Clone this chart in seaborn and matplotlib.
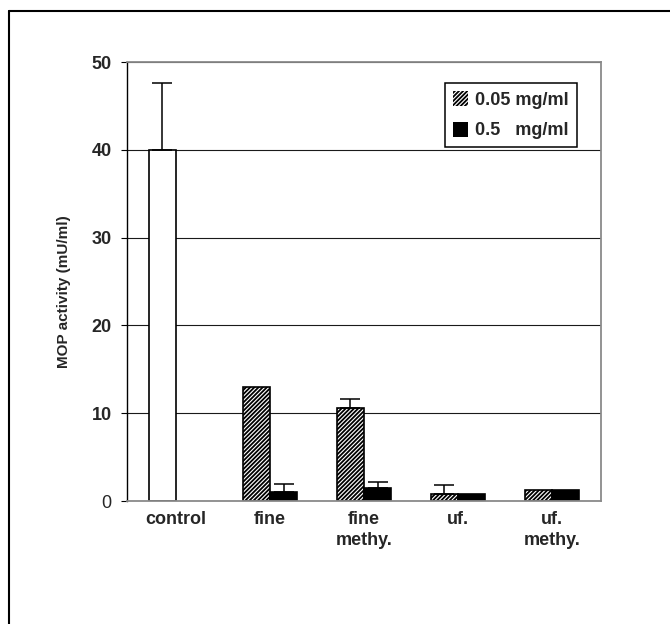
import numpy as np
import pandas as pd
import seaborn as sns
import matplotlib.pyplot as plt
from matplotlib.patches import Patch
from matplotlib.lines import Line2D

# values
samples = ['control', 'fine', 'fine\nmethy.', 'uf.', 'uf.\nmethy.']
conc_levels = ['0.05 mg/ml', '0.5   mg/ml']
act_low = [40.0, 13.0, 10.6, 0.8, 1.2]      # 0.05 mg/ml (control sits in this slot)
act_high = [None, 1.0, 1.5, 0.8, 1.2]       # 0.5 mg/ml
err_low = [7.6, 0.0, 1.0, 1.0, 0.0]
err_high = [0.0, 0.9, 0.7, 0.0, 0.0]

rows = []
for s, v in zip(samples, act_low):
    rows.append({'sample': s, 'conc': conc_levels[0], 'activity': v})
for s, v in zip(samples, act_high):
    if v is not None:
        rows.append({'sample': s, 'conc': conc_levels[1], 'activity': v})
df = pd.DataFrame(rows)

sns.set_style('white')
plt.rcParams['font.family'] = ['Liberation Sans', 'DejaVu Sans']
plt.rcParams['font.weight'] = 'bold'
plt.rcParams['hatch.linewidth'] = 1.3

HATCH = '////////'

fig = plt.figure(figsize=(6.7, 6.24), dpi=100)
ax = fig.add_axes([127 / 670, 1 - 501 / 624, 474 / 670, 439 / 624])

sns.barplot(data=df, x='sample', y='activity', hue='conc', order=samples,
            hue_order=conc_levels, palette=['white', 'black'], width=0.58,
            edgecolor='black', linewidth=1.2, errorbar=None, legend=False, ax=ax)

# style bars + add upward-only error bars
bar_conts = list(ax.containers)
for k, cont in enumerate(bar_conts):
    errs = err_low if k == 0 else err_high
    for bar in cont.patches:
        xc = bar.get_x() + bar.get_width() / 2
        i = int(round(xc))
        if k == 0 and i > 0:
            bar.set_hatch(HATCH)
        e = errs[i]
        if e > 0:
            ax.errorbar(xc, bar.get_height(), yerr=[[0], [e]], fmt='none',
                        ecolor='black', elinewidth=1.1, capsize=7, capthick=1.1,
                        zorder=1)

ax.set_ylim(0, 50)
ax.set_yticks(range(0, 51, 10))
ax.yaxis.grid(True, color='#1a1a1a', linewidth=0.8)
ax.set_axisbelow(True)
ax.set_xlabel('')
ax.set_ylabel('MOP activity (mU/ml)', fontsize=11, fontweight='bold')
ax.yaxis.set_label_coords(-0.118, 0.476)

ax.tick_params(axis='y', left=True, length=4, width=0.8, color='black',
               pad=7, labelsize=13)
ax.tick_params(axis='x', bottom=False, length=0, pad=7, labelsize=13)
for lab in ax.get_xticklabels():
    lab.set_fontweight('bold')
    lab.set_linespacing(1.35)
for lab in ax.get_yticklabels():
    lab.set_fontweight('bold')
ax.get_yticklabels()[0].set_fontweight('normal')

for side in ['top', 'right', 'bottom']:
    ax.spines[side].set_color('#8a8a8a')
    ax.spines[side].set_linewidth(1.3)
ax.spines['left'].set_color('black')
ax.spines['left'].set_linewidth(1.0)

handles = [Patch(facecolor='white', edgecolor='black', hatch=HATCH, linewidth=0),
           Patch(facecolor='black', edgecolor='black', linewidth=0)]
leg = ax.legend(handles, conc_levels, loc='upper right',
                bbox_to_anchor=(0.949, 0.952), borderaxespad=0, frameon=True,
                fancybox=False, edgecolor='black', framealpha=1,
                prop={'size': 13, 'weight': 'bold'}, handlelength=0.8,
                handleheight=0.9, handletextpad=0.4, labelspacing=0.7,
                borderpad=0.45)
leg.get_frame().set_linewidth(1.1)

# outer frame (only top and left edges show in the crop)
fig.add_artist(Line2D([8.5 / 670, 1], [1 - 10.5 / 624] * 2,
                      transform=fig.transFigure, color='black', lw=1.5))
fig.add_artist(Line2D([8.5 / 670] * 2, [0, 1 - 10.5 / 624],
                      transform=fig.transFigure, color='black', lw=1.5))

fig.savefig('out.png', dpi=100)
